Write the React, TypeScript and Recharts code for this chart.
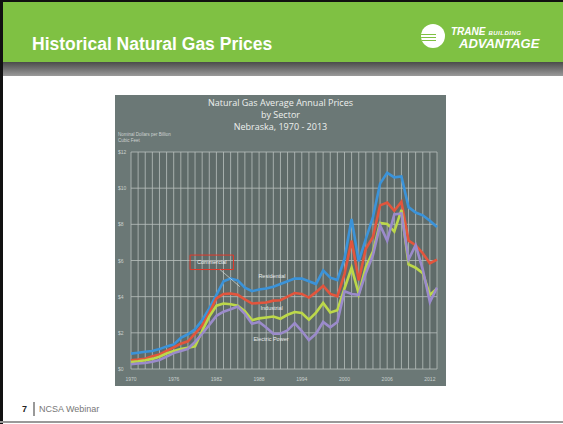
import { CartesianGrid, Line, LineChart, ReferenceArea, ReferenceDot, ReferenceLine, XAxis, YAxis } from 'recharts';

const years = [
  1970, 1971, 1972, 1973, 1974, 1975, 1976, 1977, 1978, 1979,
  1980, 1981, 1982, 1983, 1984, 1985, 1986, 1987, 1988, 1989,
  1990, 1991, 1992, 1993, 1994, 1995, 1996, 1997, 1998, 1999,
  2000, 2001, 2002, 2003, 2004, 2005, 2006, 2007, 2008, 2009,
  2010, 2011, 2012, 2013,
];

const residential = [
  0.85, 0.9, 0.95, 1.0, 1.1, 1.25, 1.35, 1.72, 1.92, 2.2,
  2.7, 3.35, 4.1, 4.85, 5.0, 4.9, 4.5, 4.3, 4.4, 4.45,
  4.55, 4.7, 4.85, 5.0, 5.0, 4.85, 4.7, 5.45, 5.05, 4.92,
  6.1, 8.3, 5.95, 7.2, 8.4, 10.25, 10.85, 10.6, 10.65, 8.95,
  8.65, 8.5, 8.2, 7.85,
];

const commercial = [
  0.48, 0.52, 0.57, 0.7, 0.8, 1.0, 1.2, 1.4, 1.53, 1.95,
  2.4, 3.1, 3.9, 4.15, 4.17, 4.1, 3.85, 3.62, 3.65, 3.68,
  3.78, 3.8, 4.0, 4.2, 4.15, 3.95, 4.25, 4.6, 4.15, 4.02,
  5.25, 7.1, 4.9, 6.65, 7.3, 9.05, 9.2, 8.75, 9.25, 7.1,
  6.85, 6.4, 5.85, 6.05,
];

const industrial = [
  0.39, 0.43, 0.48, 0.56, 0.68, 0.86, 1.0, 1.1, 1.18, 1.25,
  2.1, 2.9, 3.5, 3.62, 3.58, 3.5, 3.2, 2.7, 2.8, 2.85,
  2.9, 2.78, 3.0, 3.15, 3.1, 2.73, 3.12, 3.65, 3.12, 3.25,
  4.45, 5.6, 4.15, 5.65, 6.5, 8.08, 8.02, 7.6, 8.8, 5.78,
  5.6, 5.3, 4.1, 4.45,
];

const electricPower = [
  0.26, 0.3, 0.33, 0.4, 0.5, 0.68, 0.88, 1.0, 1.12, 1.5,
  1.95, 2.43, 2.94, 3.17, 3.3, 3.45, 3.05, 2.5, 2.6, 2.3,
  1.95, 1.95, 2.14, 2.54, 2.1, 1.6, 1.95, 2.6, 2.3, 2.6,
  4.3, 4.15, 4.1, 5.3, 6.3, 7.95, 7.1, 8.55, 8.6, 6.05,
  6.85, 5.5, 3.7, 4.5,
];

const labelYears = [1970, 1976, 1982, 1988, 1994, 2000, 2006, 2012];
const priceTicks = [0, 2, 4, 6, 8, 10, 12];

const data = years.map((year, i) => ({
  year,
  residential: residential[i],
  commercial: commercial[i],
  industrial: industrial[i],
  electricPower: electricPower[i],
}));

const sans = 'Liberation Sans, Arial, sans-serif';
const tickStyle = { fill: '#c9d0ce', fontSize: 5, fontFamily: sans };

function PriceTick({ y, payload }: any) {
  return (
    <text x={3} y={y} dy={2} fill="#c9d0ce" fontSize={5} fontFamily={sans}>
      {`$${payload.value}`}
    </text>
  );
}

function SeriesLabel({ viewBox, value }: any) {
  if (!viewBox) return null;
  return (
    <text x={viewBox.x} y={viewBox.y} fill="#e8ecea" fontSize={5.5} fontFamily={sans}>
      {value}
    </text>
  );
}

function GasChart() {
  return (
    <LineChart
      width={331}
      height={291}
      data={data}
      margin={{ top: 57, right: 9, left: 0, bottom: 3 }}
    >
      <CartesianGrid stroke="#b9c0be" strokeWidth={0.8} fill="#5f6b69" />
      <XAxis
        dataKey="year"
        type="number"
        domain={[1970, 2013]}
        ticks={years}
        tickFormatter={(v) => (labelYears.includes(v) ? `${v}` : '')}
        tick={tickStyle}
        tickLine={false}
        axisLine={false}
        height={14}
        interval={0}
      />
      <YAxis
        domain={[0, 12]}
        ticks={priceTicks}
        tick={<PriceTick />}
        tickLine={false}
        axisLine={false}
        width={16}
      />
      <Line type="linear" dataKey="residential" stroke="#3b93d9" strokeWidth={2.6} dot={false} isAnimationActive={false} />
      <Line type="linear" dataKey="commercial" stroke="#e2553d" strokeWidth={2.6} dot={false} isAnimationActive={false} />
      <Line type="linear" dataKey="industrial" stroke="#bcd84a" strokeWidth={2.6} dot={false} isAnimationActive={false} />
      <Line type="linear" dataKey="electricPower" stroke="#9b8bcb" strokeWidth={2.6} dot={false} isAnimationActive={false} />
      <ReferenceArea
        x1={1978.3}
        x2={1984.4}
        y1={5.5}
        y2={6.3}
        fill="none"
        stroke="#e0392a"
        strokeWidth={1}
        ifOverflow="visible"
        label={{ value: 'Commercial', fill: '#eef0ee', fontSize: 5.5, fontFamily: sans }}
      />
      <ReferenceLine
        segment={[{ x: 1982.5, y: 5.5 }, { x: 1985.3, y: 4.55 }]}
        stroke="#e8ecea"
        strokeWidth={0.6}
      />
      <ReferenceDot x={1987.9} y={5.05} r={0} label={<SeriesLabel value="Residential" />} />
      <ReferenceDot x={1988.2} y={3.25} r={0} label={<SeriesLabel value="Industrial" />} />
      <ReferenceDot x={1987.2} y={1.55} r={0} label={<SeriesLabel value="Electric Power" />} />
    </LineChart>
  );
}

export default function App() {
  return (
    <div style={{ position: 'absolute', left: 0, top: 0, width: 563, height: 424, background: '#fff', overflow: 'hidden', fontFamily: sans }}>
      {/* header */}
      <div style={{ position: 'absolute', left: 0, top: 0, width: 563, height: 62, background: '#7fc143' }} />
      <div style={{ position: 'absolute', left: 0, top: 62, width: 563, height: 14, background: 'linear-gradient(#4b4b4b, #9a9a9a)' }} />
      <div style={{ position: 'absolute', left: 32, top: 34, color: '#fff', fontSize: 17.5, fontWeight: 'bold', whiteSpace: 'nowrap' }}>
        Historical Natural Gas Prices
      </div>
      {/* logo */}
      <div style={{ position: 'absolute', left: 421, top: 24, width: 24, height: 24, borderRadius: '50%', background: '#fff', overflow: 'hidden' }}>
        <div style={{ position: 'absolute', left: 0, top: 10, width: 15, height: 1, background: '#7fc143' }} />
        <div style={{ position: 'absolute', left: 0, top: 13, width: 15, height: 1, background: '#7fc143' }} />
        <div style={{ position: 'absolute', left: 0, top: 16, width: 15, height: 1, background: '#7fc143' }} />
      </div>
      <div style={{ position: 'absolute', left: 451, top: 27, color: '#fff', fontSize: 10, lineHeight: '10px', fontWeight: 'bold', fontStyle: 'italic', whiteSpace: 'nowrap' }}>
        TRANE<span style={{ fontSize: 6, marginLeft: 3, letterSpacing: 0.5 }}>BUILDING</span>
      </div>
      <div style={{ position: 'absolute', left: 459, top: 37, color: '#fff', fontSize: 13, lineHeight: '13px', fontWeight: 'bold', fontStyle: 'italic', whiteSpace: 'nowrap' }}>
        ADVANTAGE
      </div>

      {/* chart photo */}
      <div style={{ position: 'absolute', left: 115, top: 95, width: 331, height: 291, background: '#6b7876' }}>
        <div style={{ position: 'absolute', left: 0, top: 2, width: 331, textAlign: 'center', color: '#eef0ee', fontSize: 9, lineHeight: '12px', fontFamily: 'Open Sans, sans-serif' }}>
          Natural Gas Average Annual Prices<br />by Sector<br />Nebraska, 1970 - 2013
        </div>
        <div style={{ position: 'absolute', left: 3, top: 37, color: '#cdd3d1', fontSize: 4.5, lineHeight: '6px' }}>
          Nominal Dollars per Billion<br />Cubic Feet
        </div>
        <div style={{ position: 'absolute', left: 0, top: 0 }}>
          <GasChart />
        </div>
      </div>

      {/* footer */}
      <div style={{ position: 'absolute', left: 22, top: 404, fontSize: 9, fontWeight: 'bold', color: '#222' }}>7</div>
      <div style={{ position: 'absolute', left: 33, top: 402, width: 1.5, height: 14, background: '#999' }} />
      <div style={{ position: 'absolute', left: 39, top: 404, fontSize: 9, color: '#777' }}>NCSA Webinar</div>

      {/* frame */}
      <div style={{ position: 'absolute', left: 0, top: 0, width: 3, height: 424, background: '#111' }} />
      <div style={{ position: 'absolute', left: 0, top: 0, width: 563, height: 2, background: '#111' }} />
      <div style={{ position: 'absolute', left: 0, top: 421, width: 563, height: 2, background: '#999' }} />
    </div>
  );
}
